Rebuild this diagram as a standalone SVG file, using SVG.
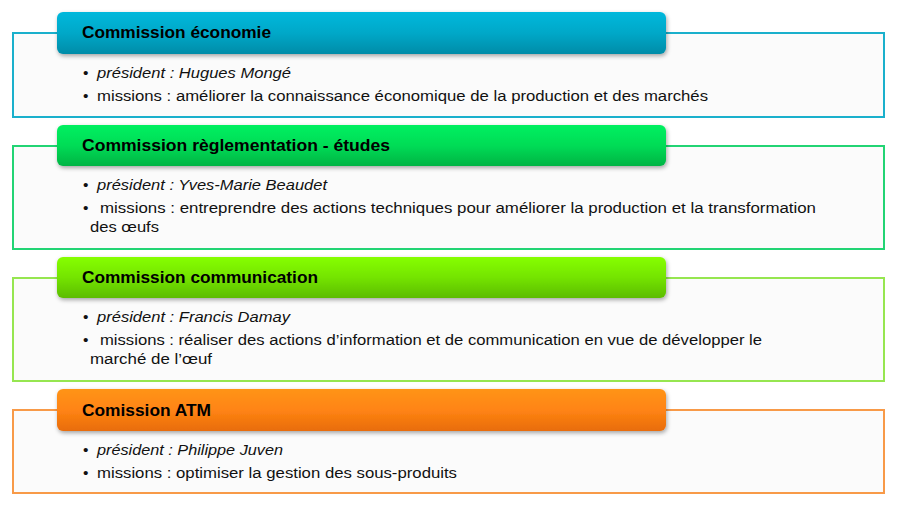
<svg xmlns="http://www.w3.org/2000/svg" width="900" height="505" viewBox="0 0 900 505">
<defs>
<linearGradient id="g1" x1="0" y1="0" x2="0" y2="1"><stop offset="0" stop-color="#00b8dc"/><stop offset="0.5" stop-color="#00a8c8"/><stop offset="1" stop-color="#008ca8"/></linearGradient>
<linearGradient id="g2" x1="0" y1="0" x2="0" y2="1"><stop offset="0" stop-color="#00f060"/><stop offset="0.5" stop-color="#00dc56"/><stop offset="1" stop-color="#00b444"/></linearGradient>
<linearGradient id="g3" x1="0" y1="0" x2="0" y2="1"><stop offset="0" stop-color="#86ff00"/><stop offset="0.5" stop-color="#74e400"/><stop offset="1" stop-color="#5cbc00"/></linearGradient>
<linearGradient id="g4" x1="0" y1="0" x2="0" y2="1"><stop offset="0" stop-color="#ff9418"/><stop offset="0.5" stop-color="#ff8414"/><stop offset="1" stop-color="#e86c08"/></linearGradient>
<filter id="sh" x="-5%" y="-20%" width="110%" height="150%"><feDropShadow dx="1" dy="2" stdDeviation="2" flood-color="#000" flood-opacity="0.35"/></filter>
</defs>
<style>
.box{fill:#fbfbfb;stroke-width:2}
.hd{filter:url(#sh)}
.t{font-family:"Liberation Sans",Arial,sans-serif;font-weight:bold;font-size:17px;fill:#000}
.b{font-family:"Liberation Sans",Arial,sans-serif;font-size:15.5px;fill:#111}
.i{font-style:italic}
</style>
<rect width="900" height="505" fill="#ffffff"/>
<g id="commission-economie">
<rect class="box" x="13" y="33" width="871" height="84" stroke="#1ab0cc"/>
<rect class="hd" x="57" y="12" width="609" height="42" rx="6" fill="url(#g1)"/>
<text class="t" x="82" y="38" textLength="189" lengthAdjust="spacingAndGlyphs">Commission économie</text>
<text class="b" x="83" y="78">•</text>
<text class="b i" x="97" y="78" textLength="194" lengthAdjust="spacingAndGlyphs">président : Hugues Mongé</text>
<text class="b" x="83" y="101">•</text>
<text class="b" x="97" y="101" textLength="611" lengthAdjust="spacingAndGlyphs">missions :  améliorer la connaissance économique de la production et des marchés</text>
</g>
<g id="commission-reglementation">
<rect class="box" x="13" y="146" width="871" height="103" stroke="#22d474"/>
<rect class="hd" x="57" y="125" width="609" height="41" rx="6" fill="url(#g2)"/>
<text class="t" x="82" y="151" textLength="308" lengthAdjust="spacingAndGlyphs">Commission règlementation - études</text>
<text class="b" x="83" y="190">•</text>
<text class="b i" x="97" y="190" textLength="230" lengthAdjust="spacingAndGlyphs">président : Yves-Marie Beaudet</text>
<text class="b" x="83" y="213">•</text>
<text class="b" x="100" y="213" textLength="716" lengthAdjust="spacingAndGlyphs">missions : entreprendre des actions techniques pour améliorer la production et la transformation</text>
<text class="b" x="90" y="232" textLength="69" lengthAdjust="spacingAndGlyphs">des œufs</text>
</g>
<g id="commission-communication">
<rect class="box" x="13" y="278" width="871" height="103" stroke="#96e650"/>
<rect class="hd" x="57" y="257" width="609" height="41" rx="6" fill="url(#g3)"/>
<text class="t" x="82" y="283" textLength="236" lengthAdjust="spacingAndGlyphs">Commission communication</text>
<text class="b" x="83" y="322">•</text>
<text class="b i" x="97" y="322" textLength="193" lengthAdjust="spacingAndGlyphs">président : Francis Damay</text>
<text class="b" x="83" y="345">•</text>
<text class="b" x="100" y="345" textLength="662" lengthAdjust="spacingAndGlyphs">missions : réaliser des actions d’information et de communication en vue de développer le</text>
<text class="b" x="90" y="364" textLength="122" lengthAdjust="spacingAndGlyphs">marché de l’œuf</text>
</g>
<g id="commission-atm">
<rect class="box" x="13" y="410" width="871" height="83" stroke="#f89a48"/>
<rect class="hd" x="57" y="389" width="609" height="42" rx="6" fill="url(#g4)"/>
<text class="t" x="82" y="416" textLength="129" lengthAdjust="spacingAndGlyphs">Comission ATM</text>
<text class="b" x="83" y="455">•</text>
<text class="b i" x="97" y="455" textLength="186" lengthAdjust="spacingAndGlyphs">président : Philippe Juven</text>
<text class="b" x="83" y="478">•</text>
<text class="b" x="97" y="478" textLength="360" lengthAdjust="spacingAndGlyphs">missions : optimiser la gestion des sous-produits</text>
</g>
<g id="connectors"/>
</svg>
